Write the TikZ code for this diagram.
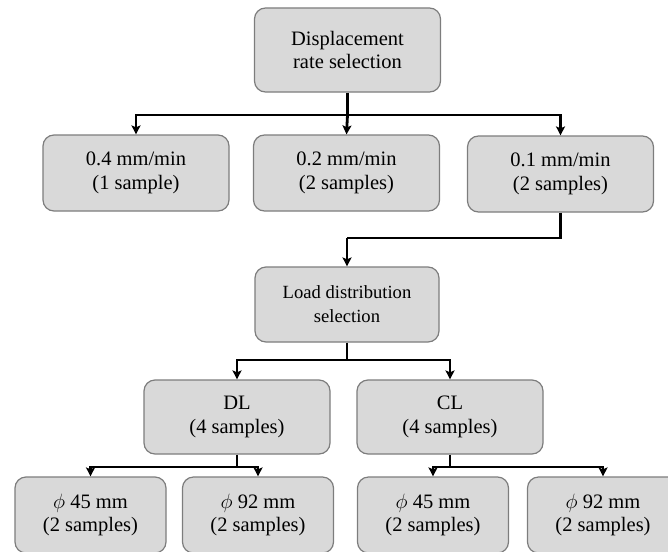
\documentclass[tikz,border=0pt]{standalone}
\usepackage{fontspec}
\setmainfont{Liberation Serif}
\usetikzlibrary{arrows.meta}
\definecolor{boxfill}{RGB}{217,217,217}
\definecolor{boxline}{RGB}{125,125,125}
\tikzset{
  box/.style={draw=boxline, fill=boxfill, line width=1.2pt, rounded corners=11pt,
    minimum width=186pt, minimum height=76pt, inner sep=0pt, align=center,
    font=\fontsize{20.5}{23.5}\selectfont},
  smallbox/.style={box, minimum width=151pt},
  conn/.style={line width=2.8pt, black},
  arr/.style={conn, -{Stealth[length=9pt,width=9pt,inset=2pt]}}
}
\begin{document}
\begin{tikzpicture}[x=1pt,y=-1pt]
\clip (0,0) rectangle (668,551);
\useasboundingbox (0,0) rectangle (668,551);
\node[box, minimum height=84pt] (top) at (347.5,50) {Displacement\\rate selection};
\node[box] (r1) at (136,173) {0.4 mm/min\\(1 sample)};
\node[box] (r2) at (346.5,173) {0.2 mm/min\\(2 samples)};
\node[box] (r3) at (560.5,174) {0.1 mm/min\\(2 samples)};
\node[box, minimum width=184pt, minimum height=75pt, font=\fontsize{18.6}{24}\selectfont] (load) at (347,304.5) {Load distribution\\selection};
\node[box, minimum height=74pt] (dl) at (237,417) {DL\\(4 samples)};
\node[box, minimum height=74pt] (cl) at (450,417) {CL\\(4 samples)};
\node[smallbox] (a) at (90.5,515) {$\phi$ 45 mm\\(2 samples)};
\node[smallbox] (b) at (258,515) {$\phi$ 92 mm\\(2 samples)};
\node[smallbox] (c) at (433,515) {$\phi$ 45 mm\\(2 samples)};
\node[smallbox] (d) at (603,515) {$\phi$ 92 mm\\(2 samples)};
\coordinate (j1) at (347.5,115);
\coordinate (j2) at (347,238);
\coordinate (j3) at (347,360);
\coordinate (j4) at (237,467);
\coordinate (j5) at (450,467);
\draw[conn] (top.south) -- (j1);
\draw[arr] (j1) -| (r1.north);
\draw[arr] (j1) -- (r2.north);
\draw[arr] (j1) -| (r3.north);
\draw[conn] (r3.south) |- (j2);
\draw[arr] (j2) -- (load.north);
\draw[conn] (load.south) -- (j3);
\draw[arr] (j3) -| (dl.north);
\draw[arr] (j3) -| (cl.north);
\draw[conn] (dl.south) -- (j4);
\draw[arr] (j4) -| (a.north);
\draw[arr] (j4) -| (b.north);
\draw[conn] (cl.south) -- (j5);
\draw[arr] (j5) -| (c.north);
\draw[arr] (j5) -| (d.north);
\end{tikzpicture}
\end{document}
